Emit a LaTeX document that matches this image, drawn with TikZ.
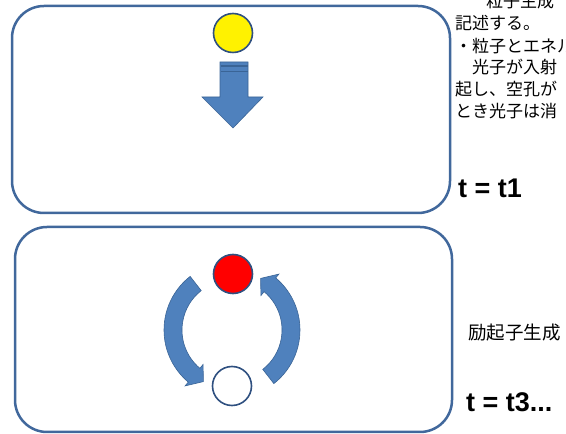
\documentclass[tikz,border=0pt]{standalone}
\usepackage{fontspec}
\setmainfont{Liberation Sans}
\newfontfamily\jp{Noto Sans CJK JP}
\usetikzlibrary{calc}
\definecolor{boxline}{HTML}{41689C}
\definecolor{shapefill}{HTML}{4F81BD}
\definecolor{shapeline}{HTML}{3A6496}
\definecolor{circline}{HTML}{2F5080}
\begin{document}
\begin{tikzpicture}[x=1pt,y=1pt,
  panel/.style={draw=boxline, line width=2.5pt, rounded corners=32pt, inner sep=0pt},
  ball/.style={circle, draw=circline, line width=1.6pt, minimum size=39pt, inner sep=0pt},
  bluefill/.style={fill=shapefill, draw=shapeline, line width=0.6pt},
  jptext/.style={anchor=west, inner sep=0pt, font=\jp\fontsize{17}{22}\selectfont},
  timelabel/.style={anchor=west, inner sep=0pt, font=\fontsize{27}{30}\selectfont\bfseries}]
\useasboundingbox (0,0) rectangle (566,434);
% panels
\node[panel, minimum width=438pt, minimum height=207pt] (box1) at (231,324.5) {};
\node[panel, minimum width=437pt, minimum height=205pt] (box2) at (233.5,104.5) {};
% top panel: photon and down arrow
\node[ball, fill=yellow] (photon) at (233,401) {};
\draw[bluefill] (220,372) -- (248,372) -- (248,337) -- (263,337) -- (233,306) -- (202,337) -- (220,337) -- cycle;
\draw[shapeline, line width=1.2pt] (220.5,368) -- (247.5,368);
\draw[shapeline, line width=1.2pt] (220.5,362.5) -- (247.5,362.5);
% bottom panel: electron, hole, circular arrows
\node[ball, fill=red] (electron) at (233,160) {};
\node[ball, fill=white] (hole) at (232,48) {};
\coordinate (C) at (232,104);
\draw[bluefill] ($(C)+(128:68)$) arc[start angle=128, end angle=230, radius=68]
  -- ($(C)+(230:73)$) -- ($(C)+(241:59)$) -- ($(C)+(230:45)$) -- ($(C)+(230:50)$)
  arc[start angle=230, end angle=128, radius=50] -- cycle;
\draw[bluefill] ($(C)+(-52:68)$) arc[start angle=-52, end angle=50, radius=68]
  -- ($(C)+(50:73)$) -- ($(C)+(61:59)$) -- ($(C)+(50:45)$) -- ($(C)+(50:50)$)
  arc[start angle=50, end angle=-52, radius=50] -- cycle;
% text column
\node[jptext] (l0) at (486,433) {粒子生成};
\node[jptext] (l1) at (455,411) {記述する。};
\node[jptext] (l2) at (455,388) {・粒子とエネル};
\node[jptext] (l3) at (472,367) {光子が入射};
\node[jptext] (l4) at (455,345) {起し、空孔が};
\node[jptext] (l5) at (455,323) {とき光子は消};
\node[timelabel] (tA) at (458,246) {t = t1};
\node[jptext, font=\jp\fontsize{18.5}{22}\selectfont] (exc) at (468,101) {励起子生成};
\node[timelabel] (tB) at (466,32) {t = t3...};
\end{tikzpicture}
\end{document}
